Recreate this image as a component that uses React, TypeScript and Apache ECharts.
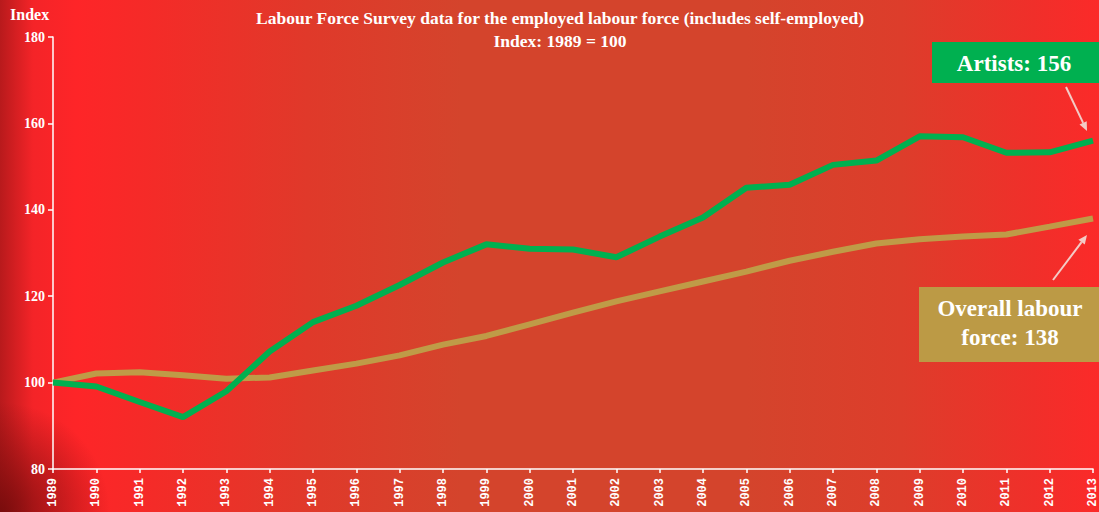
import React, { useEffect, useRef } from "react";
import * as echarts from "echarts";

const years = ["1989","1990","1991","1992","1993","1994","1995","1996","1997","1998","1999","2000","2001","2002","2003","2004","2005","2006","2007","2008","2009","2010","2011","2012","2013"];
const artists = [100, 99.1, 95.5, 92, 98, 107.2, 114, 117.8, 122.6, 127.8, 132, 131, 130.8, 129, 133.8, 138.2, 145.1, 145.8, 150.4, 151.4, 157, 156.8, 153.2, 153.3, 156];
const overall = [100, 102.1, 102.4, 101.7, 100.9, 101.2, 102.8, 104.4, 106.3, 108.8, 110.8, 113.5, 116.2, 118.8, 121.1, 123.4, 125.7, 128.2, 130.3, 132.2, 133.2, 133.8, 134.3, 136.1, 138];
const yTicks = { min: 80, max: 180, interval: 20 };
const titleLines = ["Labour Force Survey data for the employed labour force (includes self-employed)", "Index: 1989 = 100"];

const SERIF = "'Liberation Serif', 'DejaVu Serif', serif";

function arrow(x1: number, y1: number, x2: number, y2: number, color: string) {
  const dx = x2 - x1, dy = y2 - y1;
  const len = Math.sqrt(dx * dx + dy * dy);
  const ux = dx / len, uy = dy / len;
  const px = -uy, py = ux;
  const hl = 9, hw = 4;
  const bx = x2 - ux * hl, by = y2 - uy * hl;
  return [
    { type: "line", shape: { x1, y1, x2: bx, y2: by }, style: { stroke: color, lineWidth: 2 } },
    { type: "polygon", shape: { points: [[x2, y2], [bx + px * hw, by + py * hw], [bx - px * hw, by - py * hw]] }, style: { fill: color } },
  ];
}

export default function App() {
  const ref = useRef<HTMLDivElement>(null);
  useEffect(() => {
    if (!ref.current) return;
    const chart = echarts.init(ref.current, undefined, { renderer: "svg" });
    const arrowColor = "#f3cbc6";
    chart.setOption({
      animation: false,
      backgroundColor: "transparent",
      grid: { left: 53, right: 6, top: 37, bottom: 43, containLabel: false },
      xAxis: {
        type: "category",
        data: years,
        boundaryGap: false,
        axisLine: { lineStyle: { color: "#ffffff", width: 1.5 } },
        axisTick: { show: true, interval: 0, length: 4, lineStyle: { color: "#ffffff", width: 1.5 } },
        axisLabel: { interval: 0, rotate: 90, color: "#ffffff", fontFamily: "'Liberation Mono', 'DejaVu Sans Mono', monospace", fontWeight: "bold", fontSize: 12, margin: 9 },
        splitLine: { show: false },
      },
      yAxis: {
        type: "value",
        min: yTicks.min,
        max: yTicks.max,
        interval: yTicks.interval,
        axisLine: { show: true, lineStyle: { color: "#ffffff", width: 1.5 } },
        axisTick: { show: true, length: 5, lineStyle: { color: "#ffffff", width: 1.5 } },
        axisLabel: { color: "#ffffff", fontFamily: SERIF, fontWeight: "bold", fontSize: 14, margin: 8 },
        splitLine: { show: false },
      },
      series: [
        { name: "Overall labour force", type: "line", data: overall, symbol: "none", lineStyle: { color: "#bf9b47", width: 6 }, z: 2 },
        { name: "Artists", type: "line", data: artists, symbol: "none", lineStyle: { color: "#00b050", width: 6 }, z: 3 },
      ],
      graphic: [
        { type: "text", left: 10, top: 6, style: { text: "Index", fill: "#ffffff", font: `bold 16px ${SERIF}` } },
        { type: "text", x: 560, y: 18, style: { text: titleLines[0], fill: "#ffffff", font: `bold 17.5px ${SERIF}`, textAlign: "center", textVerticalAlign: "middle" } },
        { type: "text", x: 560, y: 41, style: { text: titleLines[1], fill: "#ffffff", font: `bold 17.5px ${SERIF}`, textAlign: "center", textVerticalAlign: "middle" } },
        { type: "rect", shape: { x: 932, y: 42, width: 167, height: 41 }, style: { fill: "#00b050" } },
        { type: "text", x: 1014, y: 63, style: { text: "Artists: " + Math.round(artists[artists.length - 1]), fill: "#ffffff", font: `bold 23px ${SERIF}`, textAlign: "center", textVerticalAlign: "middle" } },
        ...arrow(1066, 87, 1087, 131, arrowColor),
        { type: "rect", shape: { x: 919, y: 287, width: 180, height: 75 }, style: { fill: "#bc9a45" } },
        { type: "text", x: 1010, y: 308, style: { text: "Overall labour", fill: "#ffffff", font: `bold 23px ${SERIF}`, textAlign: "center", textVerticalAlign: "middle" } },
        { type: "text", x: 1010, y: 337, style: { text: "force: " + Math.round(overall[overall.length - 1]), fill: "#ffffff", font: `bold 23px ${SERIF}`, textAlign: "center", textVerticalAlign: "middle" } },
        ...arrow(1053, 280, 1087, 235, arrowColor),
      ],
    });
    return () => chart.dispose();
  }, []);
  return (
    <div
      ref={ref}
      style={{
        position: "fixed",
        left: 0,
        top: 0,
        width: 1099,
        height: 512,
        background:
          "radial-gradient(circle at 0% 100%, rgba(110,10,10,0.85) 0px, rgba(110,10,10,0) 110px), linear-gradient(90deg, #b81a1c 0%, #f42428 3%, #fe2528 7%, #f42b28 14%, #e0392a 28%, #d4442c 42%, #d4442c 68%, #dd3d2b 82%, #f02f2a 94%, #fb2a29 100%)",
      }}
    />
  );
}
